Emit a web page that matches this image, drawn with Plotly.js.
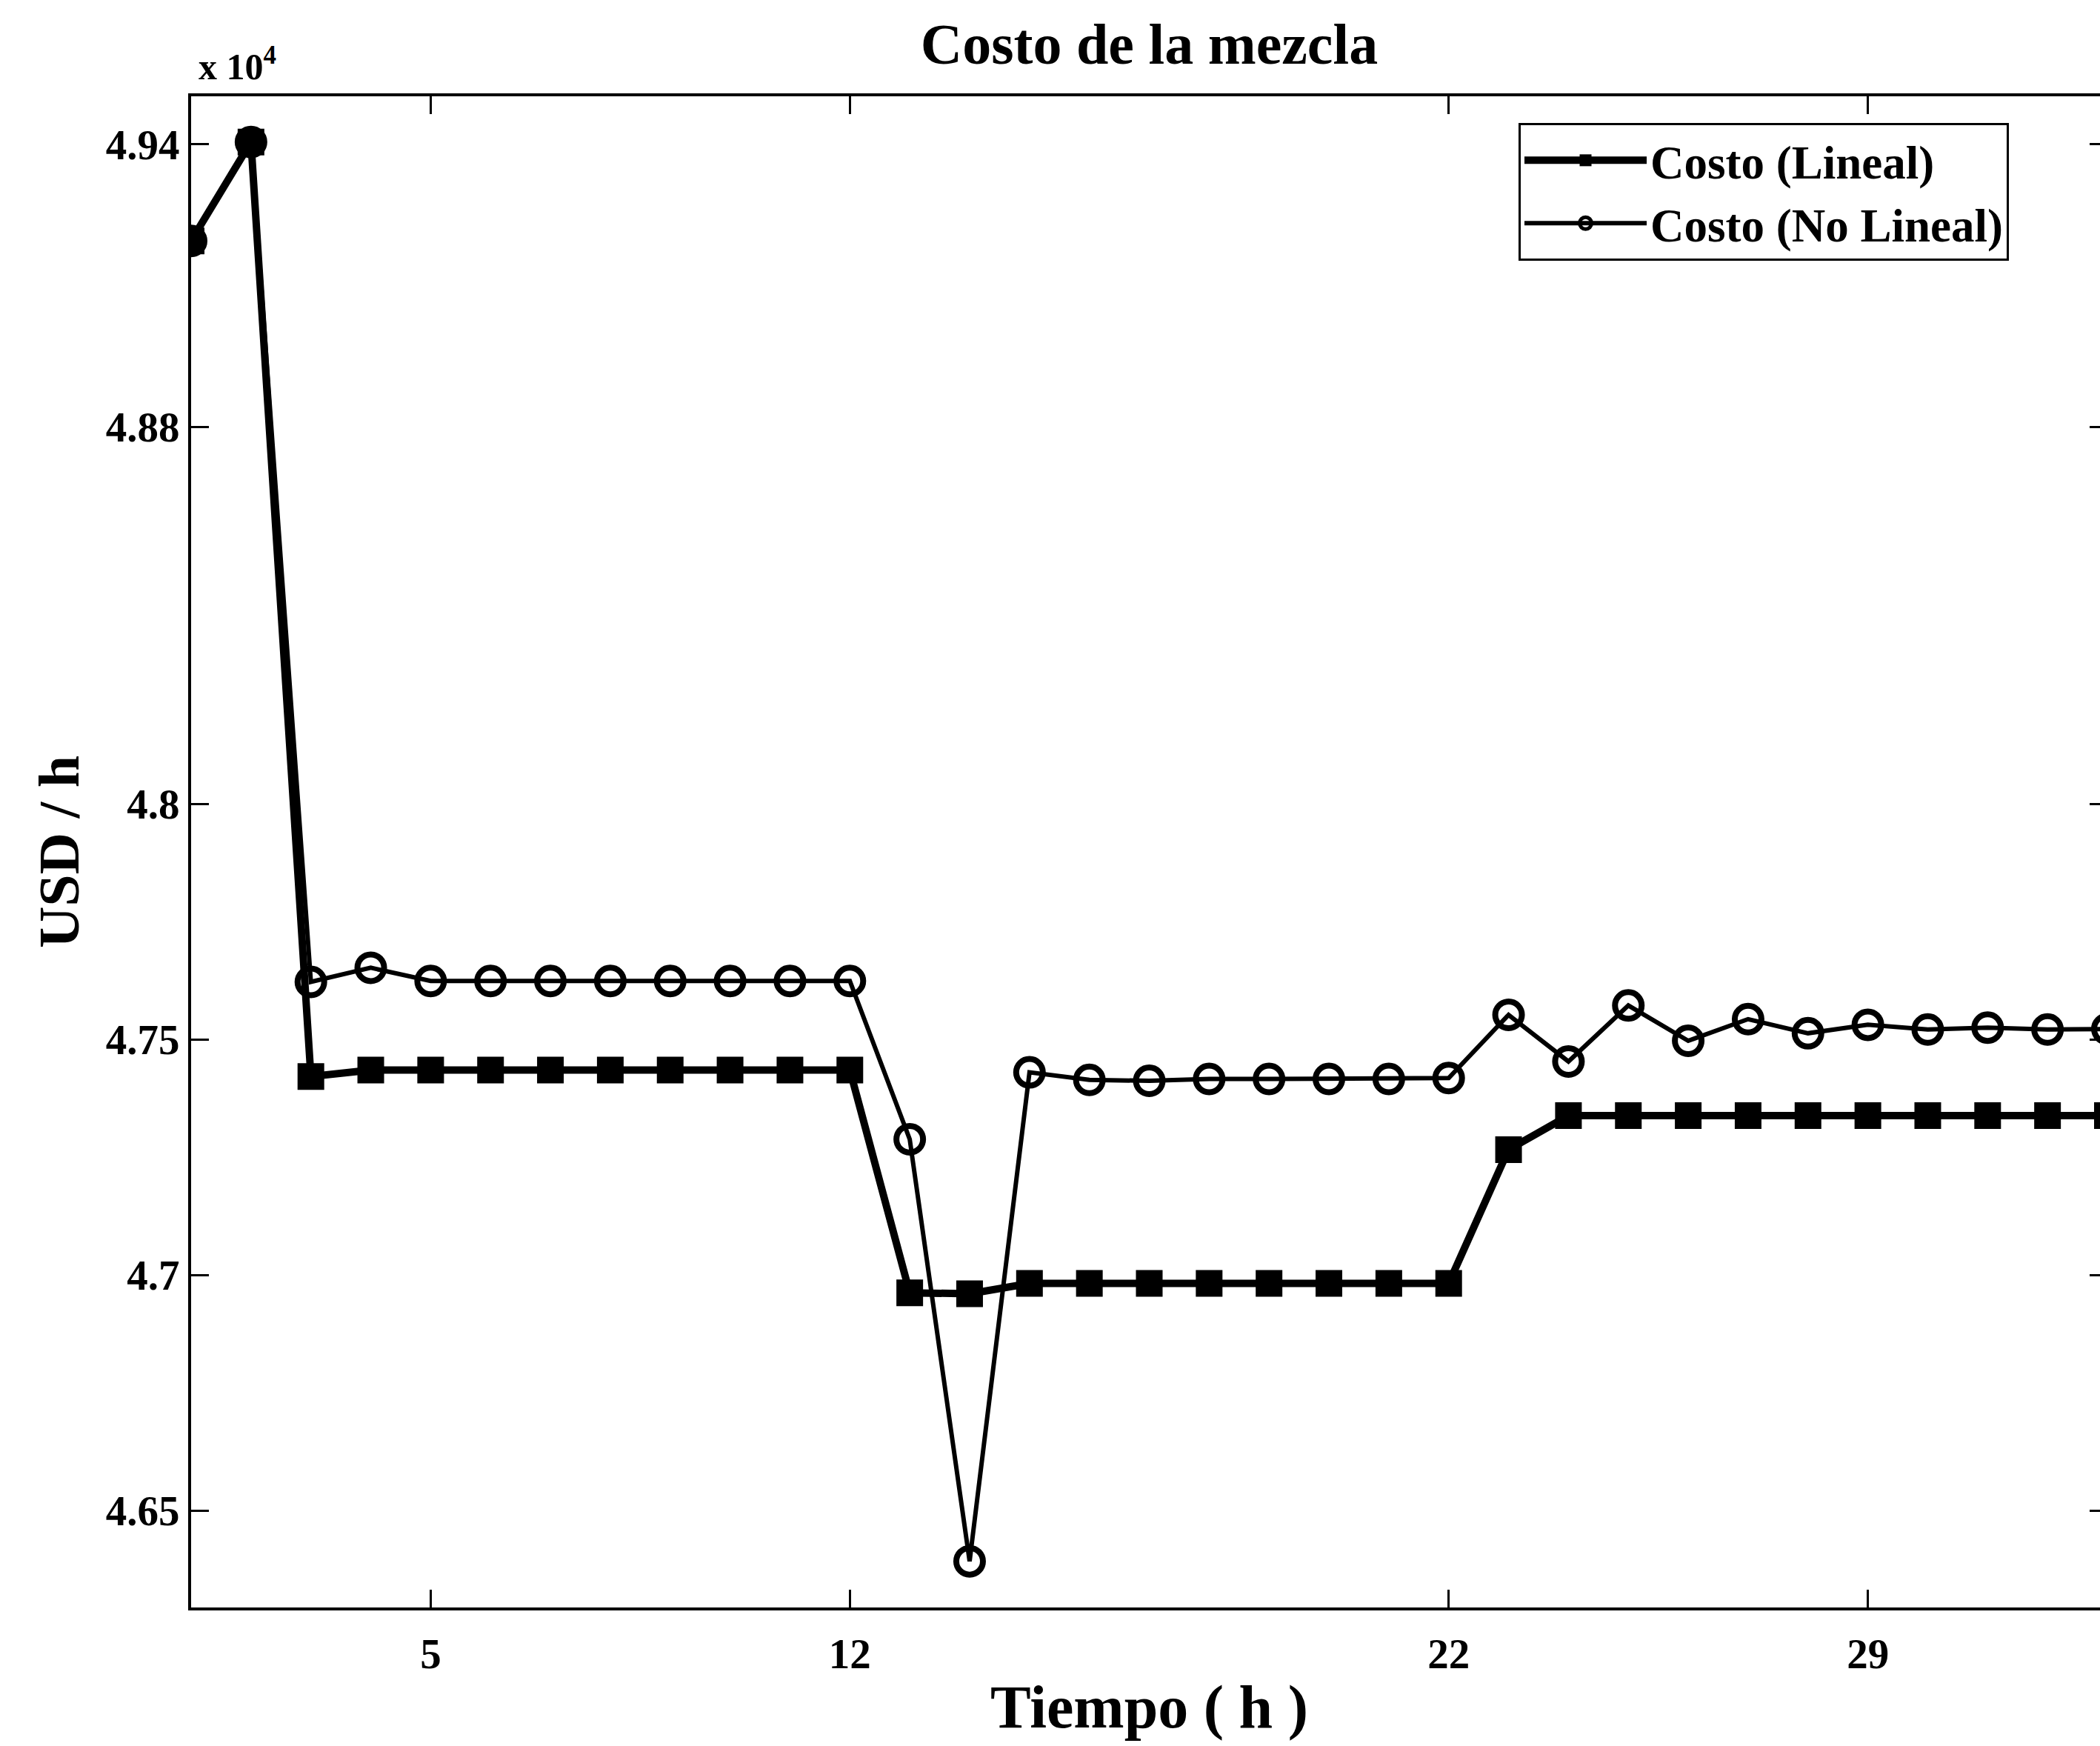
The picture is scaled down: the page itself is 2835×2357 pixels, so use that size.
<!DOCTYPE html>
<html>
<head>
<meta charset="utf-8">
<script src="https://cdn.plot.ly/plotly-3.0.1.min.js"></script>
<style>
html, body { margin: 0; padding: 0; background: #ffffff; overflow: hidden; }
#chart { width: 2900px; height: 2357px; }
</style>
</head>
<body>
<div id="chart"></div>
<script>
// Hours
const hours = [1,2,3,4,5,6,7,8,9,10,11,12,13,14,15,16,17,18,19,20,21,22,23,24,25,26,27,28,29,30,31,32,33];

// Costo (Lineal), USD/h
const costoLineal = [
  49195, 49405, 47421, 47435, 47435, 47435, 47435, 47435, 47435, 47435, 47435, 47435,
  46962, 46960, 46982, 46982, 46982, 46982, 46982, 46982, 46982, 46982,
  47266, 47338, 47338, 47338, 47338, 47338, 47338, 47338, 47338, 47338, 47338
];

// Costo (No Lineal), USD/h
const costoNoLineal = [
  49195, 49405, 47622, 47652, 47624, 47624, 47624, 47624, 47624, 47624, 47624, 47624,
  47288, 46392, 47430, 47414, 47412, 47416, 47416, 47416, 47416, 47418,
  47552, 47453, 47572, 47497, 47543, 47513, 47531, 47521, 47525, 47521, 47522
];

// Axis ticks
const xTickVals = [5, 12, 22, 29];
const yTickVals = [46500, 47000, 47500, 48000, 48800, 49400];
const yTickText = ['4.65', '4.7', '4.75', '4.8', '4.88', '4.94'];

const FONT = 'Liberation Serif, Times New Roman, serif';

const traces = [
  {
    x: hours, y: costoLineal, name: 'Costo (Lineal)',
    type: 'scatter', mode: 'lines+markers',
    line: { color: '#000000', width: 10 },
    marker: { symbol: 'square', size: 36, color: '#000000' }
  },
  {
    x: hours, y: costoNoLineal, name: 'Costo (No Lineal)',
    type: 'scatter', mode: 'lines+markers',
    line: { color: '#000000', width: 6 },
    marker: { symbol: 'circle-open', size: 36, color: '#000000', line: { color: '#000000', width: 8 } }
  }
];

const layout = {
  width: 2900,
  height: 2357,
  margin: { l: 258, r: 55, t: 130, b: 187 },
  paper_bgcolor: '#ffffff',
  plot_bgcolor: '#ffffff',
  showlegend: true,
  title: {
    text: 'Costo de la mezcla',
    font: { family: FONT, size: 78, color: '#000000', weight: 'bold' },
    x: 0.5, xref: 'paper', xanchor: 'center',
    y: 0.975, yref: 'container', yanchor: 'middle'
  },
  xaxis: {
    range: [1, 33],
    tickmode: 'array', tickvals: xTickVals, ticktext: xTickVals.map(String),
    ticks: 'inside', ticklen: 24, tickwidth: 3, tickcolor: '#000000',
    showline: true, linecolor: '#000000', linewidth: 4, mirror: 'ticks',
    showgrid: false, zeroline: false,
    ticklabelstandoff: 10,
    tickfont: { family: FONT, size: 57, color: '#000000', weight: 'bold' },
    title: { text: 'Tiempo ( h )', font: { family: FONT, size: 82, color: '#000000', weight: 'bold' }, standoff: 12 }
  },
  yaxis: {
    range: [46294, 49502],
    tickmode: 'array', tickvals: yTickVals, ticktext: yTickText,
    ticks: 'inside', ticklen: 24, tickwidth: 3, tickcolor: '#000000',
    showline: true, linecolor: '#000000', linewidth: 4, mirror: 'ticks',
    showgrid: false, zeroline: false,
    tickfont: { family: FONT, size: 57, color: '#000000', weight: 'bold' },
    title: { text: 'USD / h', font: { family: FONT, size: 78, color: '#000000', weight: 'bold' }, standoff: 12 }
  },
  legend: {
    x: 0.6927, y: 0.9824, xanchor: 'left', yanchor: 'top',
    bgcolor: '#ffffff', bordercolor: '#000000', borderwidth: 3,
    font: { family: FONT, size: 63, color: '#000000', weight: 'bold' },
    itemwidth: 165, itemsizing: 'trace',
    tracegroupgap: 0
  },
  annotations: [
    {
      text: 'x 10<sup>4</sup>', xref: 'paper', yref: 'paper',
      x: 0.003, y: 1, xanchor: 'left', yanchor: 'bottom', yshift: 10,
      showarrow: false,
      font: { family: FONT, size: 50, color: '#000000', weight: 'bold' }
    }
  ]
};

Plotly.newPlot('chart', traces, layout, { staticPlot: true, displayModeBar: false });
</script>
</body>
</html>
